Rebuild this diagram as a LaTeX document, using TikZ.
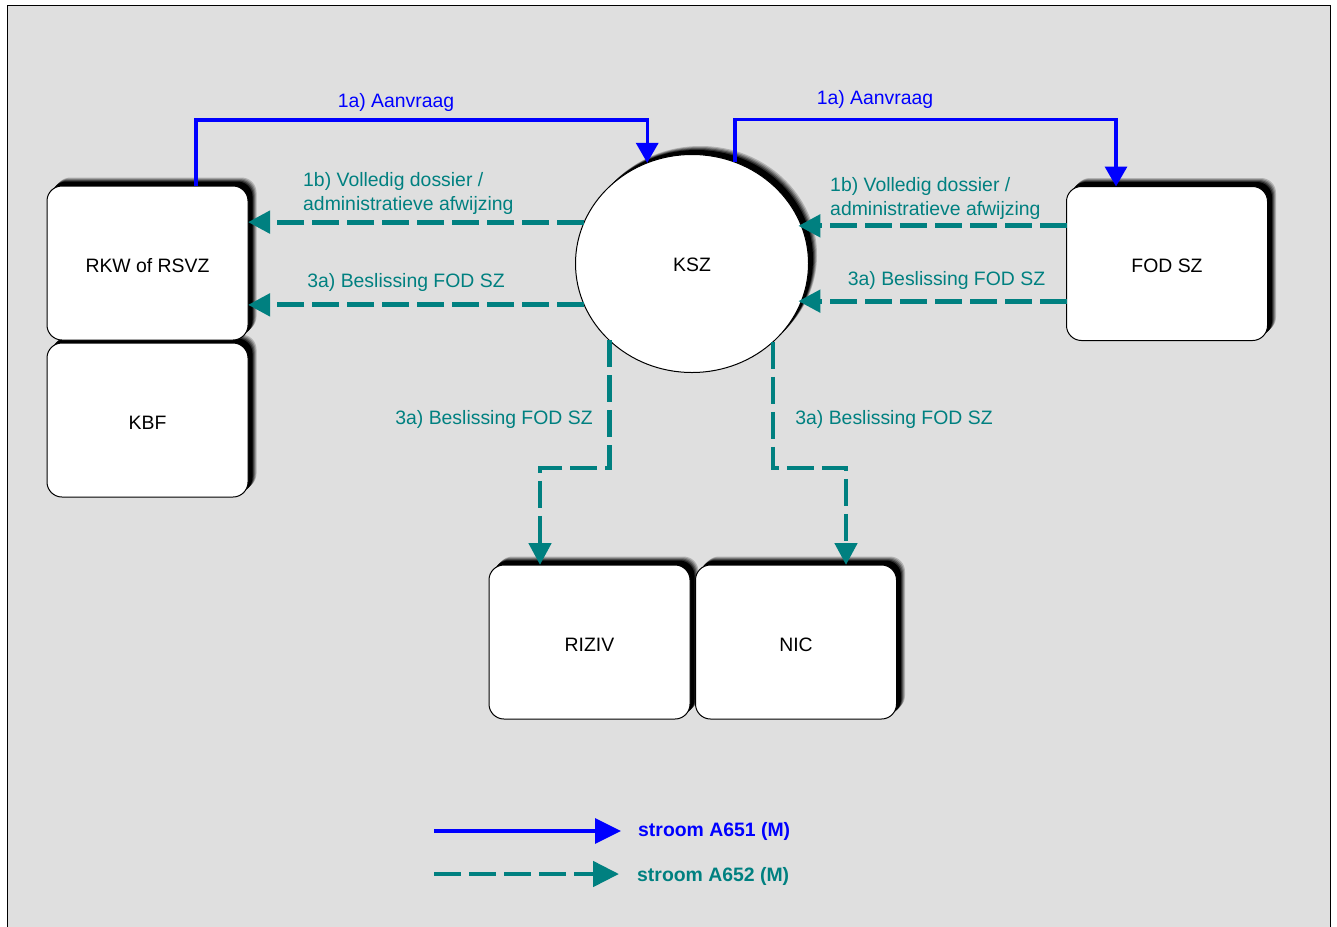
\documentclass[tikz,border=0pt]{standalone}
\usepackage{fontspec}
\setmainfont{Liberation Sans}
\usetikzlibrary{arrows.meta,shapes.geometric,shadows}
\definecolor{bgc}{HTML}{DFDFDF}
\definecolor{flowblue}{HTML}{0000FF}
\definecolor{flowteal}{HTML}{008080}
\begin{document}
\begin{tikzpicture}[x=1pt,y=-1pt,
  font=\fontsize{19.4}{24}\selectfont,
  softshadow/.style={
    general shadow={fill=bgc!80!black, shadow xshift=8.5pt, shadow yshift=8.5pt},
    general shadow={fill=bgc!60!black, shadow xshift=7.5pt, shadow yshift=7.5pt},
    general shadow={fill=bgc!40!black, shadow xshift=6.5pt, shadow yshift=6.5pt},
    general shadow={fill=bgc!20!black, shadow xshift=5.5pt, shadow yshift=5.5pt},
    general shadow={fill=black, shadow xshift=4.5pt, shadow yshift=4.5pt}},
  entity/.style={softshadow, draw=black, line width=1pt, fill=white,
    rounded corners=15pt, minimum width=201pt, minimum height=154pt,
    inner sep=0pt, outer sep=0pt, text height=18pt, text depth=0pt},
  hub/.style={softshadow, ellipse, draw=black, line width=1pt, fill=white,
    minimum width=233pt, minimum height=218pt, inner sep=0pt, outer sep=0pt,
    text height=15pt, text depth=0pt},
  blueflow/.style={draw=flowblue, line width=3.4pt,
    -{Triangle[length=20pt,width=22pt]}},
  tealflow/.style={draw=flowteal, line width=4.8pt, dash pattern=on 27pt off 8pt,
    -{Triangle[length=22pt,width=22pt]}},
  bluelabel/.style={text=flowblue, inner sep=0pt},
  teallabel/.style={text=flowteal, inner sep=0pt},
  legendtip/.style={-{Triangle[length=26pt,width=25pt]}}
]
\useasboundingbox (0,0) rectangle (1337,926);
\fill[white] (0,0) rectangle (1337,926);
\draw[line width=1.5pt, fill=bgc] (7.5,5.5) rectangle (1330.5,940);

% entities
\node[entity] (KBF) at (147.5,420) {KBF};
\node[entity] (RKW) at (147.5,263) {RKW of RSVZ};
\node[entity] (FOD) at (1167,263.5) {FOD SZ};
\node[entity] (RIZIV) at (589.5,642) {RIZIV};
\node[entity] (NIC) at (796,642) {NIC};
\node[hub] (KSZ) at (692,263.5) {KSZ};

% blue flows (1a)
\draw[blueflow] ([xshift=48.5pt]RKW.north) -- ++(0,-66) -| (KSZ.114.6);
\draw[blueflow] (KSZ.67) |- ([xshift=-51pt,yshift=67pt]FOD.north) -- ([xshift=-51pt]FOD.north);
\node[bluelabel, anchor=base] (l1) at (396,107) {1a) Aanvraag};
\node[bluelabel, anchor=base] (l2) at (875,104) {1a) Aanvraag};

% teal flows left
\draw[tealflow] (KSZ.159.3) -- (KSZ.159.3 -| RKW.east);
\draw[tealflow] (KSZ.201.3) -- (KSZ.201.3 -| RKW.east);
\node[teallabel, anchor=west, align=left] (l3) at (303,193) {1b) Volledig dossier /\\administratieve afwijzing};
\node[teallabel, anchor=base] (l4) at (406,287) {3a) Beslissing FOD SZ};

% teal flows right
\draw[tealflow] (FOD.west |- KSZ.19.1) -- ([xshift=-3pt]KSZ.19.1);
\draw[tealflow] (FOD.west |- KSZ.341.4) -- ([xshift=-3pt]KSZ.341.4);
\node[teallabel, anchor=west, align=left] (l5) at (830,198) {1b) Volledig dossier /\\administratieve afwijzing};
\node[teallabel, anchor=base] (l6) at (946.5,285) {3a) Beslissing FOD SZ};

% teal flows down
\draw[tealflow] (KSZ.223.6) |- ([xshift=-49.5pt,yshift=97pt]RIZIV.north) -- ([xshift=-49.5pt]RIZIV.north);
\draw[tealflow] (KSZ.316.4) |- ([xshift=50pt,yshift=97pt]NIC.north) -- ([xshift=50pt]NIC.north);
\node[teallabel, anchor=base] (l7) at (494,424) {3a) Beslissing FOD SZ};
\node[teallabel, anchor=base] (l8) at (894,424) {3a) Beslissing FOD SZ};

% legend
\coordinate (lg1) at (434,831);
\coordinate (lg2) at (434,874);
\node[bluelabel, anchor=west, font=\fontsize{19.4}{24}\selectfont\bfseries] (lt1) at (638,831) {stroom A651 (M)};
\node[teallabel, anchor=west, font=\fontsize{19.4}{24}\selectfont\bfseries] (lt2) at (637,876) {stroom A652 (M)};
\draw[blueflow, legendtip] (lg1) -- ([xshift=-17pt]lt1.west |- lg1);
\draw[tealflow, legendtip] (lg2) -- ([xshift=-18pt]lt2.west |- lg2);
\end{tikzpicture}
\end{document}
